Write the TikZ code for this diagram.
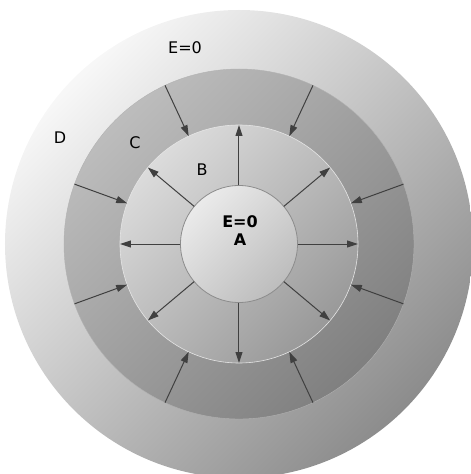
\documentclass[tikz,border=0pt]{standalone}
\usepackage{fontspec}
\setmainfont{DejaVu Sans}
\usetikzlibrary{arrows.meta}

\begin{document}
\begin{tikzpicture}[
  x=1pt, y=1pt,
  font=\fontsize{16}{18}\selectfont,
  shell/.style={circle, inner sep=0pt, outer sep=0pt},
  tilt/.style={shading angle=45},
  field/.style={draw=black!75, line width=1pt,
    -{Triangle[length=11pt, width=7pt]}},
  tag/.style={inner sep=0pt}
]
  \useasboundingbox (-239,-230) rectangle (232,244);

  % shells, outer to inner
  \node[shell, minimum size=468pt, top color=black!3, bottom color=black!45, tilt] (D) at (0,0) {};
  \node[shell, minimum size=350pt, draw=black!30, line width=0.4pt,
    top color=black!26, bottom color=black!50, tilt] (C) at (0,0) {};
  \node[shell, minimum size=238pt, draw=black!10, line width=0.6pt,
    top color=black!14, bottom color=black!40, tilt] (B) at (0,0) {};
  \node[shell, minimum size=117pt, draw=black!45, line width=0.8pt,
    top color=black!8, bottom color=black!26, tilt] (A) at (0,0) {};

  % field lines
  \foreach \a in {0,40,90,140,180,220,270,320}
    \draw[field] (A.\a) -- (B.\a);
  \foreach \a in {20,65,115,160,200,245,295,340}
    \draw[field] (C.\a) -- (B.\a);

  \node[tag] (outerE) at (-54,196) {E=0};
  \node[tag] (labD) at (-179,106) {D};
  \node[tag] (labC) at (-104,101) {C};
  \node[tag] (labB) at (-37,74) {B};
  \node[tag, font=\fontsize{16}{18}\selectfont\bfseries] (innerE) at (1,22) {E=0};
  \node[tag, font=\fontsize{16}{18}\selectfont\bfseries, below=5pt] (labA) at (innerE.south) {A};
\end{tikzpicture}
\end{document}
